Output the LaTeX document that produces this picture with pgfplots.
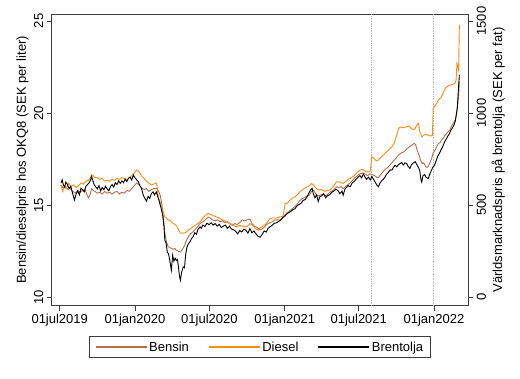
\documentclass[border=0pt]{standalone}
\usepackage{pgfplots}
\pgfplotsset{compat=1.18}
\usepackage{fontspec}
\setmainfont{Liberation Sans}
\definecolor{bensin}{RGB}{178,110,78}
\definecolor{diesel}{RGB}{255,138,20}
\definecolor{frame}{RGB}{60,60,60}
\begin{document}
\begin{tikzpicture}[font=\fontsize{13}{15}\selectfont]
\useasboundingbox (0,0) rectangle (520pt,378pt);
\pgfplotsset{
  base/.style={
    scale only axis, width=416.6pt, height=291.7pt,
    at={(51.7pt,72.3pt)}, anchor=south west,
    xmin=-19.6, xmax=998.8,
    tick align=outside, major tick length=5pt,
    axis line style={frame, line width=0.8pt},
    tick style={frame, line width=0.8pt},
    /pgf/number format/assume math mode=true,
    /pgf/number format/1000 sep={},
    tick label style={font=\fontsize{13}{15}\selectfont},
    label style={font=\fontsize{13}{15}\selectfont},
    clip=true,
  }
}
\begin{axis}[base,
  ymin=9.54, ymax=25.38,
  xtick={0,184,366,550,731,915},
  xticklabels={01jul2019,01jan2020,01jul2020,01jan2021,01jul2021,01jan2022},
  xtick pos=bottom, ytick pos=left,
  ytick={10,15,20,25},
  yticklabel style={rotate=90, anchor=south},
  ylabel={Bensin/dieselpris hos OKQ8 (SEK per liter)},
  ylabel style={at={(axis description cs:-0.07,0.5)}, rotate=0, anchor=center},
]
\addplot[gray!55, densely dotted, line width=0.7pt] coordinates {(762,9.54) (762,25.38)};
\addplot[gray!55, densely dotted, line width=0.7pt] coordinates {(913,9.54) (913,25.38)};
% Bensin
\addplot[bensin, line width=0.9pt] table {
x y
3 16.1
8 15.95
14 16.0
20 15.85
26 15.9
32 15.75
38 15.65
44 15.8
50 15.7
56 15.8
62 15.85
66 15.6
70 15.4
74 15.55
78 15.9
82 15.8
86 15.75
92 15.65
98 15.7
104 15.6
110 15.75
116 15.65
122 15.7
128 15.6
134 15.7
140 15.75
146 15.6
152 15.7
158 15.65
164 15.8
170 15.75
176 15.9
182 16.05
188 16.2
194 16.1
200 15.95
206 15.85
212 15.9
218 15.75
224 15.85
230 15.9
237 15.9
242 15.75
246 15.5
250 15.0
254 14.2
257 13.5
261 13.0
265 12.75
269 12.7
273 12.65
277 12.6
281 12.65
285 12.55
290 12.5
295 12.45
300 12.6
305 12.8
310 13.1
315 13.3
320 13.45
326 13.55
332 13.7
338 13.85
343 14.0
350 14.1
356 14.2
363 14.35
368 14.3
374 14.2
380 14.15
386 14.2
392 14.1
398 14.15
404 14.05
410 14.1
416 14.0
422 13.9
428 14.0
434 13.95
440 14.05
446 14.2
452 14.15
458 14.2
465 14.25
470 14.0
476 13.85
482 13.8
489 13.65
494 13.7
500 13.8
506 13.95
514 14.05
520 14.1
526 14.2
532 14.2
538 14.18
544 14.3
550 14.45
556 14.6
563 14.7
568 14.8
574 14.9
580 15.05
587 15.25
592 15.35
598 15.4
604 15.5
610 15.55
616 15.75
621 15.8
626 15.6
632 15.5
638 15.55
644 15.6
650 15.5
656 15.6
661 15.7
668 15.8
677 16.0
682 15.95
688 16.0
693 15.9
698 16.0
704 16.1
710 16.2
716 16.35
722 16.5
728 16.6
734 16.7
740 16.75
746 16.7
752 16.6
758 16.7
764 16.65
770 16.6
776 16.5
779 16.5
784 16.65
791 16.82
796 16.95
802 17.05
808 17.2
812 17.3
818 17.45
824 17.6
828 17.72
836 17.85
842 17.9
848 18.05
854 18.15
860 18.25
866 18.35
870 18.3
874 17.95
878 17.75
882 17.45
886 17.25
890 17.3
894 17.1
898 17.05
902 17.15
906 17.35
910 17.6
913 17.85
918 18.0
922 18.2
926 18.35
930 18.4
934 18.55
938 18.65
942 18.8
946 18.9
950 19.0
954 19.1
958 19.3
962 19.45
966 19.6
970 19.9
973 20.5
975 20.9
977 21.7
};
% Diesel
\addplot[diesel, line width=0.9pt] table {
x y
3 16.1
7 15.75
11 16.0
16 15.9
22 16.2
28 16.0
34 16.1
40 15.95
46 16.05
52 16.2
58 16.15
64 16.3
70 16.35
74 16.45
78 16.65
82 16.6
86 16.5
92 16.5
98 16.4
104 16.45
110 16.3
116 16.35
122 16.3
128 16.4
134 16.35
140 16.45
146 16.4
152 16.5
158 16.45
164 16.35
170 16.5
176 16.6
182 16.75
188 16.9
194 16.8
200 16.6
206 16.45
212 16.3
218 16.2
224 16.1
230 16.15
237 16.2
241 15.4
245 15.2
249 14.9
253 14.6
257 14.36
261 14.3
265 14.18
269 14.2
273 14.09
278 14.0
285 13.9
290 13.7
295 13.48
302 13.48
306 13.5
310 13.55
318 13.7
326 13.82
334 13.95
343 14.09
350 14.3
356 14.45
363 14.55
368 14.5
374 14.45
383 14.36
390 14.3
398 14.2
408 14.09
415 14.0
422 13.95
432 13.82
440 13.9
448 13.85
457 13.82
465 14.0
472 13.9
478 13.75
485 13.64
489 13.75
496 13.85
505 14.0
514 14.27
520 14.3
530 14.3
538 14.36
546 14.4
551 15.09
556 15.1
563 15.27
570 15.4
578 15.5
587 15.72
594 15.85
602 15.95
610 16.05
616 16.18
622 16.05
628 15.9
632 15.82
640 15.85
648 15.75
655 15.8
661 15.82
668 16.0
677 16.27
684 16.25
693 16.18
700 16.3
706 16.4
710 16.45
716 16.55
722 16.65
728 16.8
734 16.9
740 16.95
746 16.85
752 16.8
759 16.82
763 17.63
768 17.55
774 17.4
779 17.45
785 17.6
791 17.72
797 17.85
804 18.0
812 18.17
818 18.4
824 18.8
828 19.17
834 19.25
840 19.2
848 19.26
854 19.3
860 19.15
865 19.1
869 19.17
873 19.35
877 19.44
880 19.0
885 18.71
890 18.8
896 18.85
901 18.8
906 18.75
911 18.8
913 20.26
918 20.4
926 20.7
932 20.85
938 21.1
942 21.34
948 21.45
954 21.52
960 21.55
966 21.61
969 21.8
971 22.7
975 22.34
977 24.78
};
\end{axis}
\begin{axis}[base,
  ymin=-46, ymax=1538,
  hide x axis,
  axis y line*=right,
  ytick={0,500,1000,1500},
  yticklabel style={rotate=90, anchor=north},
  ylabel={Världsmarknadspris på brentolja (SEK per fat)},
  ylabel style={at={(axis description cs:1.072,0.5)}, rotate=0, anchor=center},
  legend columns=3,
  legend style={at={(0.5,-0.142)}, anchor=center, draw=frame, line width=0.8pt,
    font=\fontsize{13}{15}\selectfont,
    /tikz/every even column/.append style={column sep=17pt},
    inner xsep=5pt, inner ysep=3pt},
  legend image code/.code={\draw[#1, line width=1.4pt] (0pt,0pt) -- (51pt,0pt);},
]
\addlegendimage{bensin}
\addlegendentry{Bensin}
\addlegendimage{diesel}
\addlegendentry{Diesel}
\addplot[black, line width=0.9pt] table {
x y
3 620
6 638
9 610
12 598
15 625
19 612
23 590
27 602
31 568
36 528
40 560
44 578
48 556
52 592
56 584
60 572
64 602
68 612
72 622
76 640
78 655
80 640
84 612
88 600
92 588
96 606
100 578
104 596
108 584
112 602
116 588
120 578
124 600
128 612
132 598
136 622
140 612
144 632
148 618
152 632
156 622
160 642
164 628
168 646
172 652
176 636
180 664
184 648
188 638
192 628
196 606
200 590
204 556
208 538
212 522
216 548
220 536
224 562
228 572
232 556
236 572
240 545
244 515
249 473
252 440
255 380
257 310
260 295
263 245
266 235
269 200
273 147
276 228
279 196
282 212
285 200
288 205
291 148
293 112
295 92
298 135
302 165
305 160
308 235
311 272
314 288
318 300
322 318
326 328
330 350
334 342
338 368
343 382
346 374
350 392
355 384
360 402
365 394
370 404
375 392
380 400
385 386
390 396
395 378
400 386
405 392
410 374
415 386
420 370
425 366
430 358
435 344
440 362
445 354
450 370
455 364
460 348
465 373
470 350
475 360
480 344
485 330
490 326
495 342
500 360
505 354
510 376
515 384
520 392
525 402
530 404
535 412
540 418
545 432
550 440
555 452
560 460
565 466
570 476
575 480
580 496
585 504
590 510
595 526
600 530
605 546
610 570
614 584
617 592
620 560
624 540
628 556
632 520
636 546
640 550
645 562
650 540
655 552
660 556
665 570
670 576
675 586
680 580
685 562
690 576
693 554
697 586
701 596
705 606
710 600
715 620
720 630
725 642
730 654
734 660
738 648
742 670
746 654
750 640
755 652
759 636
763 656
767 640
771 626
775 610
779 600
783 620
787 632
791 640
795 652
799 668
804 680
808 692
812 690
816 706
820 716
824 708
828 720
832 726
836 732
840 718
844 730
848 726
852 710
856 700
860 720
865 730
869 736
873 720
877 705
880 688
883 640
885 625
888 660
892 666
896 650
901 645
905 670
909 690
912 706
916 716
920 740
924 766
928 780
932 800
936 816
940 840
944 856
948 872
952 886
956 906
960 920
964 936
967 956
970 1000
972 1030
975 1142
977 1208
};
\addlegendentry{Brentolja}
\end{axis}
\end{tikzpicture}
\end{document}
